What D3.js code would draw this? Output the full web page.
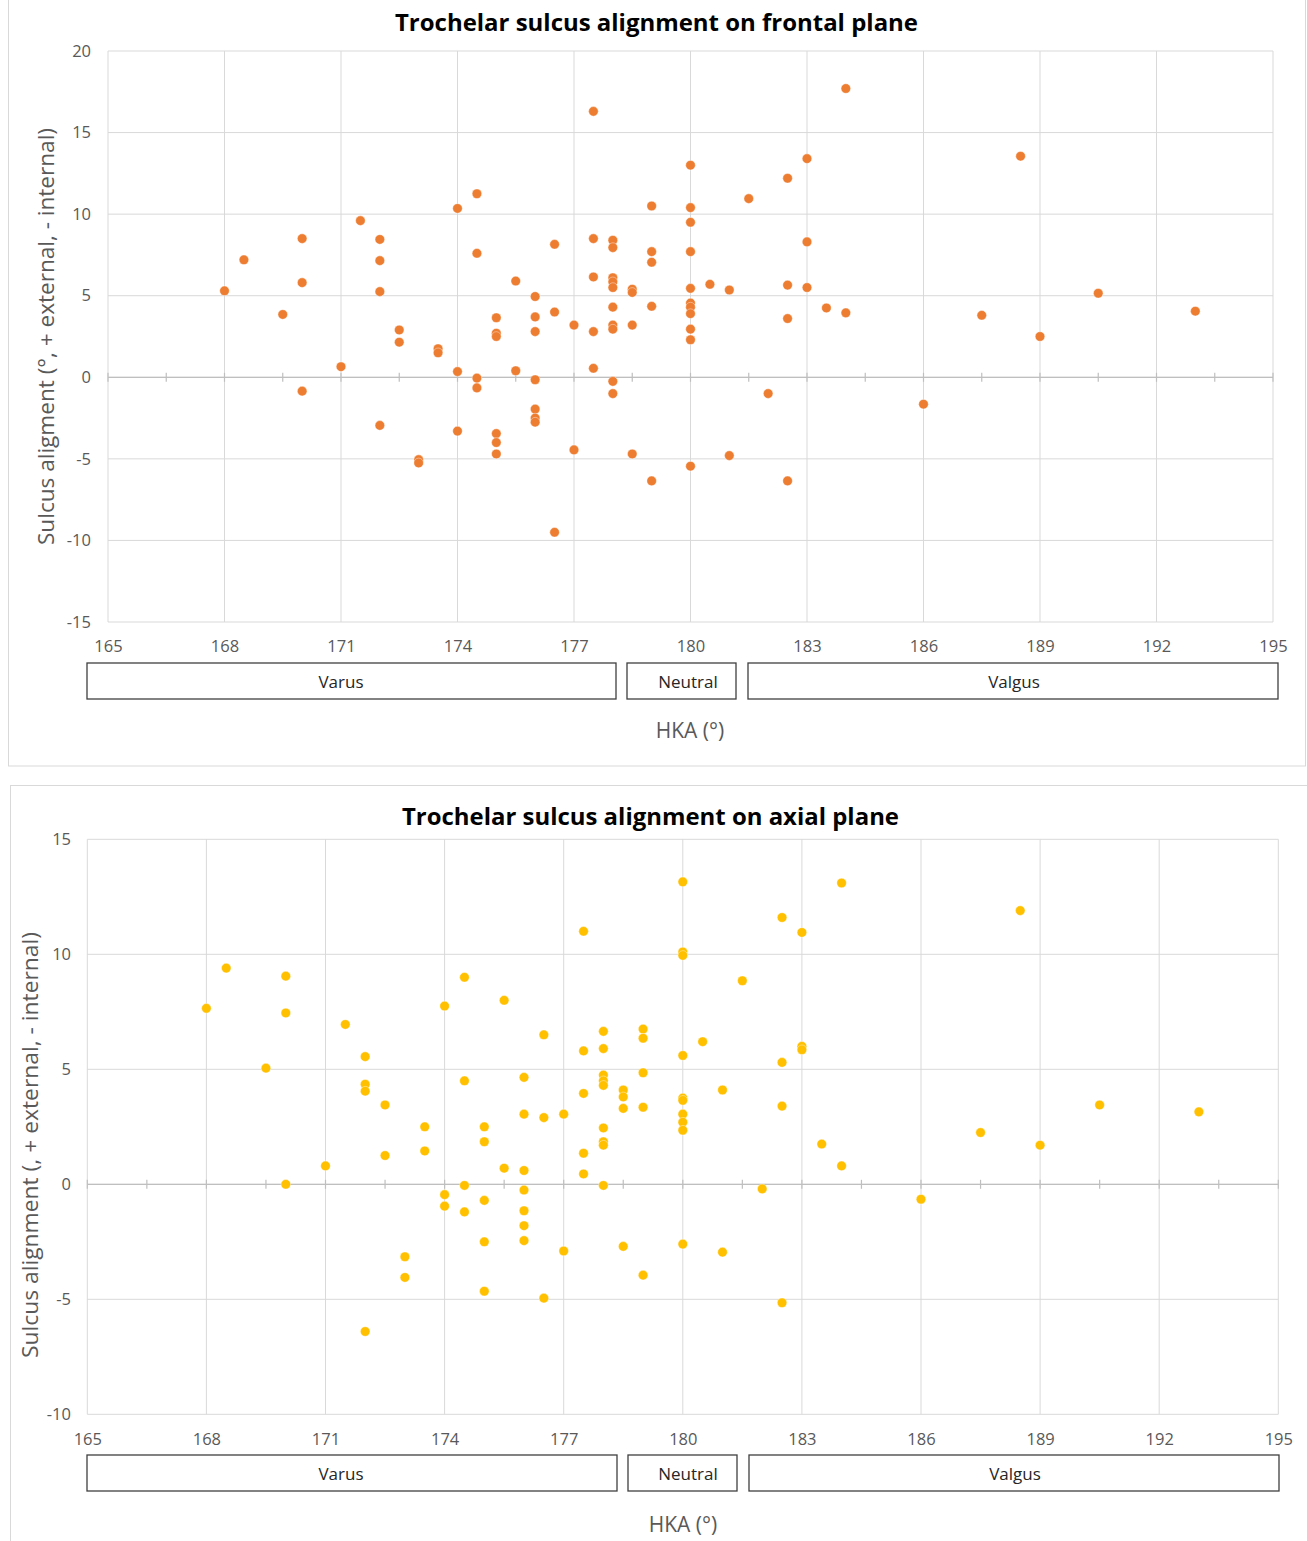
<!DOCTYPE html>
<html>
<head>
<meta charset="utf-8">
<script src="https://cdn.jsdelivr.net/npm/d3@7/dist/d3.min.js"></script>
<style>
  html, body { margin: 0; padding: 0; background: #fff; }
  svg { display: block; }
  text { font-family: "Open Sans", "Noto Sans", sans-serif; }
</style>
</head>
<body>
<svg id="fig" width="1307" height="1541"></svg>
<script>
// HKA (°) ticks, shared by both panels
const hkaTicks = [165, 168, 171, 174, 177, 180, 183, 186, 189, 192, 195];
const frontalTicks = [-15, -10, -5, 0, 5, 10, 15, 20];
const axialTicks = [-10, -5, 0, 5, 10, 15];
const groupLabels = ["Varus", "Neutral", "Valgus"];

// Frontal plane: HKA and sulcus alignment, paired by index
const frontalHKA = [
  168, 168.5, 169.5, 170, 170, 170, 171, 171.5, 172, 172, 172, 172, 172.5, 172.5,
  173, 173, 173.5, 173.5, 174, 174, 174, 174.5, 174.5, 174.5, 174.5,
  175, 175, 175, 175, 175, 175, 175.5, 175.5, 176, 176, 176, 176, 176, 176, 176,
  176.5, 176.5, 176.5, 177, 177, 177.5, 177.5, 177.5, 177.5, 177.5,
  178, 178, 178, 178, 178, 178, 178, 178, 178, 178, 178.5, 178.5, 178.5, 178.5,
  179, 179, 179, 179, 179, 180, 180, 180, 180, 180, 180, 180, 180, 180, 180, 180,
  180.5, 181, 181, 181.5, 182, 182.5, 182.5, 182.5, 182.5, 183, 183, 183, 183.5,
  184, 184, 186, 187.5, 188.5, 189, 190.5, 193
];
const frontalAlign = [
  5.3, 7.2, 3.85, 8.5, 5.8, -0.85, 0.65, 9.6, 8.45, 7.15, 5.25, -2.95, 2.9, 2.15,
  -5.05, -5.25, 1.75, 1.5, 10.35, 0.35, -3.3, 11.25, 7.6, -0.05, -0.65,
  3.65, 2.7, 2.5, -3.45, -4.0, -4.7, 5.9, 0.4, 4.95, 3.7, 2.8, -0.15, -1.95, -2.5, -2.75,
  8.15, 4.0, -9.5, 3.2, -4.45, 16.3, 8.5, 6.15, 2.8, 0.55,
  8.4, 7.95, 6.1, 5.85, 5.5, 4.3, 3.2, 2.95, -0.25, -1.0, 5.4, 5.2, 3.2, -4.7,
  10.5, 7.7, 7.05, 4.35, -6.35, 13.0, 10.4, 9.5, 7.7, 5.45, 4.55, 4.3, 3.9, 2.95, 2.3, -5.45,
  5.7, 5.35, -4.8, 10.95, -1.0, 12.2, 5.65, 3.6, -6.35, 13.4, 8.3, 5.5, 4.25,
  17.7, 3.95, -1.65, 3.8, 13.55, 2.5, 5.15, 4.05
];

// Axial plane: HKA and sulcus alignment, paired by index
const axialHKA = [
  168, 168.5, 169.5, 170, 170, 170, 171, 171.5, 172, 172, 172, 172, 172.5, 172.5,
  173, 173, 173.5, 173.5, 174, 174, 174, 174.5, 174.5, 174.5, 174.5,
  175, 175, 175, 175, 175, 175.5, 175.5, 176, 176, 176, 176, 176, 176, 176,
  176.5, 176.5, 176.5, 177, 177, 177.5, 177.5, 177.5, 177.5, 177.5,
  178, 178, 178, 178, 178, 178, 178, 178, 178, 178.5, 178.5, 178.5, 178.5,
  179, 179, 179, 179, 179, 180, 180, 180, 180, 180, 180, 180, 180, 180, 180,
  180.5, 181, 181, 181.5, 182, 182.5, 182.5, 182.5, 182.5, 183, 183, 183, 183.5,
  184, 184, 186, 187.5, 188.5, 189, 190.5, 193
];
const axialAlign = [
  7.65, 9.4, 5.05, 9.05, 7.45, 0.0, 0.8, 6.95, 5.55, 4.35, 4.05, -6.4, 3.45, 1.25,
  -3.15, -4.05, 2.5, 1.45, 7.75, -0.45, -0.95, 9.0, 4.5, -0.05, -1.2,
  2.5, 1.85, -0.7, -2.5, -4.65, 8.0, 0.7, 4.65, 3.05, 0.6, -0.25, -1.15, -1.8, -2.45,
  6.5, 2.9, -4.95, 3.05, -2.9, 11.0, 5.8, 3.95, 1.35, 0.45,
  6.65, 5.9, 4.75, 4.5, 4.3, 2.45, 1.85, 1.7, -0.05, 4.1, 3.8, 3.3, -2.7,
  6.75, 6.35, 4.85, 3.35, -3.95, 13.15, 10.1, 9.95, 5.6, 3.75, 3.65, 3.05, 2.7, 2.35, -2.6,
  6.2, 4.1, -2.95, 8.85, -0.2, 11.6, 5.3, 3.4, -5.15, 10.95, 6.0, 5.85, 1.75,
  13.1, 0.8, -0.65, 2.25, 11.9, 1.7, 3.45, 3.15
];

const svg = d3.select("#fig");
const gridColor = "#d9d9d9";
const labelColor = "#595959";
const plainNumber = d => String(d);   // keeps an ASCII hyphen for negatives

function drawPanel(cfg) {
  const g = svg.append("g");

  // panel frame
  g.append("rect")
    .attr("x", cfg.frame[0]).attr("y", cfg.frame[1])
    .attr("width", cfg.frame[2]).attr("height", cfg.frame[3])
    .attr("fill", "#fff").attr("stroke", gridColor).attr("stroke-width", 1);

  const x = d3.scaleLinear().domain([165, 195]).range(cfg.xRange);
  const y = d3.scaleLinear().domain(cfg.yDomain).range(cfg.yRange);
  const [x0, x1] = cfg.xRange;
  const [yb, yt] = cfg.yRange;

  // gridlines
  g.append("g").selectAll("line").data(hkaTicks).join("line")
    .attr("x1", d => x(d)).attr("x2", d => x(d))
    .attr("y1", yt).attr("y2", yb)
    .attr("stroke", gridColor).attr("stroke-width", 1);
  g.append("g").selectAll("line").data(cfg.yTicks).join("line")
    .attr("x1", x0).attr("x2", x1)
    .attr("y1", d => y(d)).attr("y2", d => y(d))
    .attr("stroke", gridColor).attr("stroke-width", 1);

  // zero line with minor ticks every 1.5°
  const zero = y(0);
  g.append("line")
    .attr("x1", x0).attr("x2", x1).attr("y1", zero).attr("y2", zero)
    .attr("stroke", "#bfbfbf").attr("stroke-width", 1.2);
  const minor = d3.range(165, 195.001, 1.5);
  g.append("g").selectAll("line").data(minor).join("line")
    .attr("x1", d => x(d)).attr("x2", d => x(d))
    .attr("y1", zero - 4.5).attr("y2", zero + 4.5)
    .attr("stroke", "#bfbfbf").attr("stroke-width", 1.2);

  // y tick labels
  const yAxis = d3.axisLeft(y).tickValues(cfg.yTicks).tickFormat(plainNumber)
    .tickSize(0).tickPadding(0);
  const ya = g.append("g").attr("transform", `translate(${cfg.yLabelX},0)`).call(yAxis);
  ya.select(".domain").remove();
  ya.selectAll("text").attr("fill", labelColor).style("font-size", "16.5px")
    .style("font-family", '"Open Sans", sans-serif');

  // x tick labels
  const xAxis = d3.axisBottom(x).tickValues(hkaTicks).tickFormat(plainNumber)
    .tickSize(0).tickPadding(0);
  const xa = g.append("g").attr("transform", `translate(0,${cfg.xLabelY})`).call(xAxis);
  xa.select(".domain").remove();
  xa.selectAll("text").attr("fill", labelColor).style("font-size", "16.5px")
    .style("font-family", '"Open Sans", sans-serif').attr("dy", "0.32em").attr("y", 0);

  // points
  g.append("g").selectAll("circle").data(cfg.hka).join("circle")
    .attr("cx", d => x(d))
    .attr("cy", (d, i) => y(cfg.align[i]))
    .attr("r", 4.8)
    .attr("fill", cfg.color)
    .attr("stroke", "#fff").attr("stroke-width", 0.4);

  // group boxes under the HKA axis
  const boxes = g.append("g");
  cfg.boxes.forEach((b, i) => {
    boxes.append("rect")
      .attr("x", b[0]).attr("y", cfg.boxY)
      .attr("width", b[1] - b[0]).attr("height", 36)
      .attr("fill", "#fff").attr("stroke", "#3f3f3f").attr("stroke-width", 1.3);
    boxes.append("text")
      .attr("x", b[2]).attr("y", cfg.boxY + 18)
      .attr("text-anchor", "middle").attr("dominant-baseline", "central")
      .attr("fill", "#262626").style("font-size", "17px")
      .text(groupLabels[i]);
  });

  // titles
  g.append("text")
    .attr("x", cfg.title[1]).attr("y", cfg.title[2])
    .attr("text-anchor", "middle").attr("font-weight", "bold")
    .attr("fill", "#000").style("font-size", "23px")
    .attr("textLength", cfg.title[3]).attr("lengthAdjust", "spacingAndGlyphs")
    .text(cfg.title[0]);

  g.append("text")
    .attr("transform", `translate(${cfg.yTitle[1]},${cfg.yTitle[2]}) rotate(-90)`)
    .attr("text-anchor", "middle").attr("dominant-baseline", "central")
    .attr("fill", labelColor).style("font-size", "21px")
    .attr("textLength", cfg.yTitle[3]).attr("lengthAdjust", "spacingAndGlyphs")
    .text(cfg.yTitle[0]);

  g.append("text")
    .attr("x", cfg.xTitle[0]).attr("y", cfg.xTitle[1])
    .attr("text-anchor", "middle").attr("dominant-baseline", "central")
    .attr("fill", labelColor).style("font-size", "21px")
    .text("HKA (°)");
}

drawPanel({
  frame: [8.5, -1, 1297, 767],
  xRange: [108, 1273],
  yDomain: [-15, 20],
  yRange: [622, 51],
  yTicks: frontalTicks,
  yLabelX: 91,
  xLabelY: 647,
  hka: frontalHKA,
  align: frontalAlign,
  color: "#ED7D31",
  boxY: 663,
  boxes: [[87, 616, 341], [627, 736, 688], [748, 1278, 1014]],
  title: ["Trochelar sulcus alignment on frontal plane", 656.5, 31, 523],
  yTitle: ["Sulcus aligment (°, + external, - internal)", 46, 336.5, 417],
  xTitle: [690, 730]
});

drawPanel({
  frame: [10.5, 785.5, 1300, 760],
  xRange: [87.3, 1278.3],
  yDomain: [-10, 15],
  yRange: [1414.3, 839.3],
  yTicks: axialTicks,
  yLabelX: 71,
  xLabelY: 1440,
  hka: axialHKA,
  align: axialAlign,
  color: "#FFC000",
  boxY: 1455,
  boxes: [[87, 617, 341], [628, 737, 688], [749, 1279, 1015]],
  title: ["Trochelar sulcus alignment on axial plane", 650.5, 825, 497],
  yTitle: ["Sulcus alignment (, + external, - internal)", 30, 1145, 426],
  xTitle: [683, 1524]
});
</script>
</body>
</html>
